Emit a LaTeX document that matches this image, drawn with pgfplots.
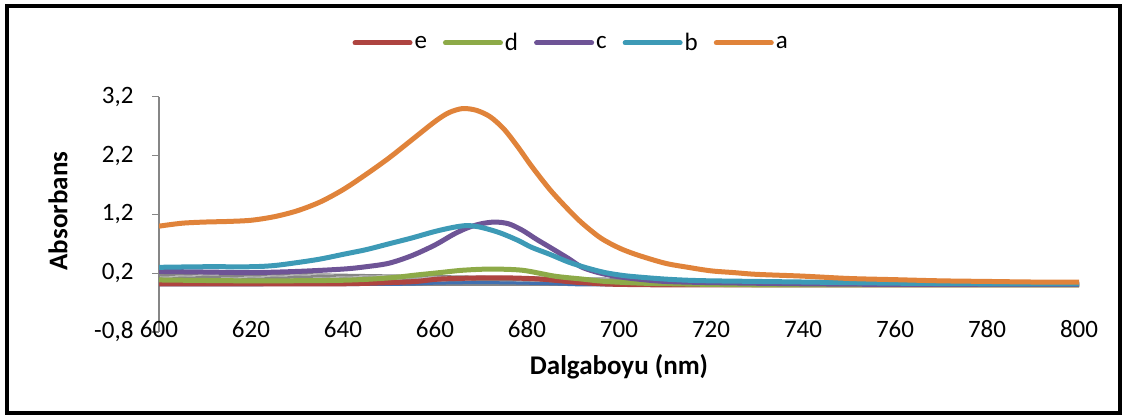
\documentclass[border=0pt]{standalone}
\usepackage{pgfplots}
\pgfplotsset{compat=1.18}
\usepackage{fontspec}
\setmainfont{Carlito}
\definecolor{ca}{HTML}{E0833A}
\definecolor{cb}{HTML}{3D9AB6}
\definecolor{cc}{HTML}{6E5496}
\definecolor{cd}{HTML}{8DAA48}
\definecolor{ce}{HTML}{AE4440}
\definecolor{cf}{HTML}{4070B0}
\definecolor{axgray}{HTML}{868686}
\newcommand{\fs}{\fontsize{25bp}{30bp}\selectfont}
\newcommand{\fl}{\fontsize{27bp}{32bp}\selectfont}
\begin{document}
\begin{tikzpicture}
\useasboundingbox (0,0) rectangle (1125bp,416bp);
\draw[line width=4bp] (7bp,3bp) rectangle (1120bp,410bp);
\begin{axis}[
 at={(159bp,84bp)}, anchor=south west,
 scale only axis, width=920bp, height=235.2bp,
 xmin=600, xmax=800, ymin=-0.8, ymax=3.2,
 axis lines=left, axis line style={draw=axgray, line width=1.2bp, -},
 x axis line style={draw=none},
 xtick={600,620,640,660,680,700,720,740,760,780,800},
 xticklabels={600,620,640,660,680,700,720,740,760,780,800},
 xtick style={draw=none},
 ytick={-0.8,0.2,1.2,2.2,3.2},
 yticklabels={{-0,8},{0,2},{1,2},{2,2},{3,2}},
 tick align=outside, major tick length=7bp,
 ytick style={draw=axgray, line width=1.2bp},
 tick label style={font=\fs},
 yticklabel style={xshift=-15bp},
 xticklabel style={anchor=base, yshift=2bp},
 xlabel={Dalgaboyu (nm)}, ylabel={Absorbans},
 label style={font=\fl\bfseries},
 xlabel style={at={(axis description cs:0.5,-0.149)}, anchor=center},
 ylabel style={at={(axis description cs:-0.1098,0.514)}, anchor=center},
 legend style={at={(axis description cs:0.448,1.229)}, anchor=center, draw=none, fill=none, font=\fs,
   /tikz/every even column/.append style={column sep=14bp}, nodes={inner sep=2bp}},
 legend columns=5,
 legend image code/.code={\draw[#1, line width=5bp, line cap=round] (0bp,0bp) -- (55bp,0bp);},
 every axis plot/.append style={line width=5bp, smooth, no markers},
]
\draw[axgray, line width=1.2bp] (axis cs:600,0) -- (axis cs:800,0);
\pgfplotsinvokeforeach{620,640,660,680,700,720,740,760,780,800}{
  \draw[axgray, line width=1.2bp] (axis cs:#1,0) -- ++(0,-7bp);
}
\addplot[cf, line width=3bp, forget plot] coordinates {
(600,0.0) (650,0.01) (660,0.03) (670,0.04) (680,0.03) (690,0.01) (700,0.0) (800,0.0)};
\addplot[ce] coordinates {
(600,0.02) (620,0.02) (640,0.02) (650,0.04) (656,0.06) (661,0.10) (670,0.12) (676,0.12)
(683,0.10) (690,0.05) (694,0.03) (700,0.01) (720,0.0) (800,0.0)};
\addlegendentry{e}
\addplot[cd] coordinates {
(600,0.085) (620,0.07) (640,0.08) (650,0.12) (656,0.17) (661,0.21) (666,0.25) (672,0.27)
(679,0.25) (686,0.15) (692,0.10) (697,0.06) (705,0.03) (712,0.02) (720,0.01) (740,0.0) (800,0.0)};
\addlegendentry{d}
\addplot[cc] coordinates {
(600,0.23) (610,0.22) (620,0.21) (630,0.23) (640,0.27) (645,0.31) (650,0.37) (655,0.50)
(660,0.68) (664,0.86) (667,0.97) (670,1.04) (673,1.07) (676,1.04) (679,0.93) (682,0.78)
(685,0.64) (689,0.45) (692,0.30) (696,0.20) (700,0.14) (704,0.10) (710,0.06) (720,0.04)
(740,0.02) (760,0.01) (800,0.01)};
\addlegendentry{c}
\addplot[cb] coordinates {
(600,0.30) (610,0.31) (620,0.31) (625,0.33) (630,0.38) (635,0.44) (640,0.52) (645,0.60)
(650,0.70) (655,0.80) (660,0.91) (664,0.98) (667,1.01) (670,0.98) (674,0.89) (678,0.76)
(681,0.64) (685,0.52) (689,0.39) (693,0.29) (697,0.21) (701,0.16) (705,0.13) (710,0.10)
(715,0.08) (720,0.07) (730,0.06) (740,0.05) (760,0.03) (780,0.02) (800,0.02)};
\addlegendentry{b}
\addplot[ca] coordinates {
(600,1.00) (605,1.05) (610,1.07) (615,1.08) (620,1.10) (625,1.16) (630,1.26) (635,1.41)
(640,1.62) (645,1.88) (650,2.16) (655,2.47) (660,2.78) (663,2.93) (666,3.00) (669,2.97)
(672,2.86) (675,2.65) (678,2.35) (681,2.02) (685,1.62) (689,1.28) (692,1.05) (696,0.80)
(700,0.63) (704,0.51) (710,0.37) (715,0.30) (720,0.24) (725,0.21) (730,0.18) (740,0.15)
(750,0.11) (760,0.09) (770,0.07) (780,0.06) (790,0.05) (800,0.05)};
\addlegendentry{a}
\end{axis}
\end{tikzpicture}
\end{document}
